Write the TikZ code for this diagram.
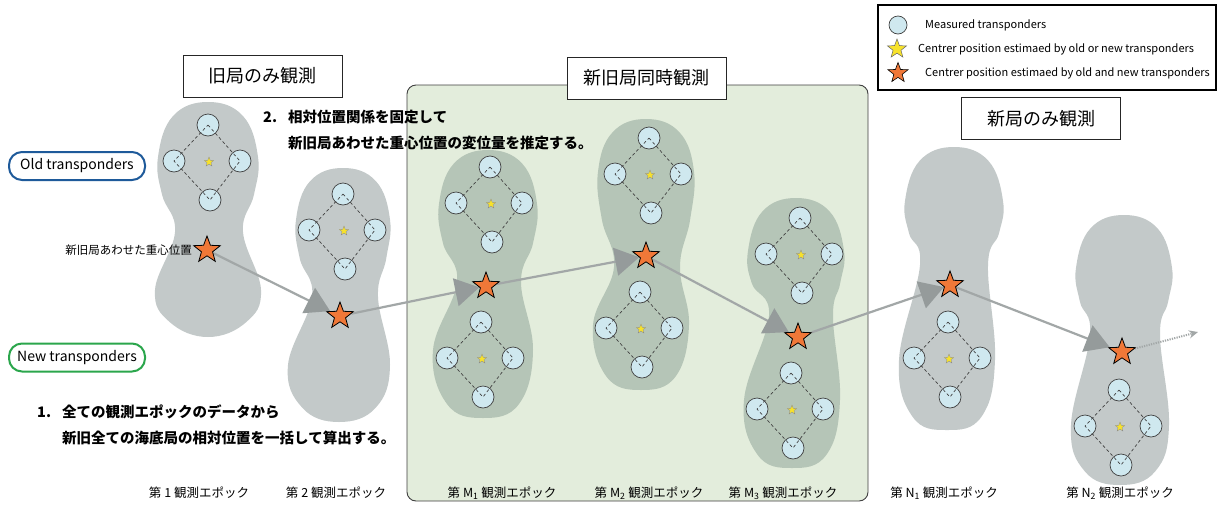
\documentclass[tikz,border=0pt]{standalone}
\usepackage{fontspec}
\setmainfont{Noto Sans CJK JP}
\usetikzlibrary{shapes.geometric,arrows.meta}
\definecolor{blobgray}{HTML}{C3C9C9}
\definecolor{blobgreen}{HTML}{B5C5B7}
\definecolor{boxgreen}{HTML}{E3EDDC}
\definecolor{tpblue}{HTML}{CFE8EF}
\definecolor{staror}{HTML}{F07838}
\definecolor{staryel}{HTML}{F7E22B}
\definecolor{arrgray}{HTML}{A2A7A7}
\definecolor{headgray}{HTML}{959B9B}
\definecolor{oldblue}{HTML}{1E5A9A}
\definecolor{newgreen}{HTML}{2BA64C}
\tikzset{
  tp/.style={circle, draw=black!75, fill=tpblue, line width=0.7pt, minimum size=22pt, inner sep=0pt},
  link/.style={draw=black!75, line width=0.7pt, dash pattern=on 3pt off 2.5pt},
  ystar/.style={star, star points=5, star point ratio=2.4, fill=staryel, draw=black!45, line width=0.3pt, minimum size=10pt, inner sep=0pt},
  ostar/.style={star, star points=5, star point ratio=2.4, fill=staror, draw=black, line width=0.8pt, minimum size=28pt, inner sep=0pt},
  move/.style={draw=arrgray, line width=2.2pt, -{Triangle[length=24pt,width=28pt,color=headgray]}},
  dotmove/.style={draw=arrgray, line width=2pt, dash pattern=on 1.2pt off 1.2pt, -{Stealth[length=9pt,width=8pt]}},
  titlebox/.style={draw=black!85, fill=white, line width=0.8pt, minimum width=159pt, minimum height=42pt, inner sep=0pt, font=\fontsize{18}{20}\selectfont},
  tagbox/.style={rounded corners=13pt, line width=2pt, fill=white, minimum width=136pt, minimum height=28pt, inner sep=0pt, font=\fontsize{14}{16}\selectfont},
  epoch/.style={font=\fontsize{12.5}{14}\selectfont, inner sep=0pt},
  step text/.style={font=\fontsize{14.5}{16}\selectfont\bfseries, inner sep=0pt, anchor=west},
  legtext/.style={font=\fontsize{11}{13}\selectfont, inner sep=0pt, anchor=west},
  blobg/.style={fill=blobgray},
  blobm/.style={fill=blobgreen}
}
% #1 style, #2 cxT, #3 T, #4 a, #5 N, #6 cxN, #7 n, #8 cxB, #9 b ; then \blobfinish{Bm}{B}
\newcommand\blobshape[9]{\def\bA{#1}\def\bB{#2}\def\bC{#3}\def\bD{#4}\def\bE{#5}\def\bF{#6}\def\bG{#7}\def\bH{#8}\def\bI{#9}\blobfinish}
\newcommand\blobfinish[2]{%
  \path[\bA] plot[smooth cycle, tension=0.7] coordinates {
    (\bB,\bC) (\bB+0.7*\bD,\bC+0.28*\bD) (\bB+\bD,\bC+1.1*\bD)
    (\bB+0.92*\bD,{(\bC+1.1*\bD+\bE)/2}) (\bF+\bG,\bE)
    (\bH+\bI,#1) (\bH+0.72*\bI,#2-0.28*\bI) (\bH,#2)
    (\bH-0.72*\bI,#2-0.28*\bI) (\bH-\bI,#1) (\bF-\bG,\bE)
    (\bB-0.92*\bD,{(\bC+1.1*\bD+\bE)/2}) (\bB-\bD,\bC+1.1*\bD) (\bB-0.7*\bD,\bC+0.28*\bD)};%
}
\newcommand\tpgroup[3]{%
  \node[tp] (#1t) at (#2-1,#3-37) {};
  \node[tp] (#1l) at (#2-35,#3-1) {};
  \node[tp] (#1r) at (#2+31,#3-1) {};
  \node[tp] (#1b) at (#2+1,#3+38) {};
  \draw[link] (#1t.center) -- (#1r.center) -- (#1b.center) -- (#1l.center) -- cycle;
  \node[ystar] (#1c) at (#2,#3) {};
}
\begin{document}
\begin{tikzpicture}[x=1pt,y=-1pt]
\useasboundingbox (0,0) rectangle (1221,504);
\fill[white] (0,0) rectangle (1221,504);

% green simultaneous-observation region
\draw[fill=boxgreen, draw=black!75, line width=0.9pt, rounded corners=9pt] (407,85) rectangle (868,501);

% blobs
\blobshape{blobg}{208}{102}{50}{232}{209}{34}{208}{53}{290}{337}
\blobshape{blobg}{343}{168}{47}{297}{345}{33}{339}{51}{365}{422}
\blobshape{blobm}{488}{150}{49}{282}{489}{32}{483}{50}{350}{418}
\blobshape{blobm}{646}{119}{48}{267}{647}{33}{641}{48}{325}{390}
\blobshape{blobm}{796}{198}{48}{316}{801}{32}{792}{48}{400}{468}
\blobshape{blobg}{954}{147}{49}{265}{954}{34}{947}{48}{360}{430}
\blobshape{blobg}{1124}{215}{48}{335}{1125}{35}{1120}{49}{425}{485}

% centre stars (placed first so arrows can refer to them)
\node[ostar, draw=none, fill=none] (s1) at (207,250) {};
\node[ostar, draw=none, fill=none] (s2) at (340,316) {};
\node[ostar, draw=none, fill=none] (sm1) at (486,286) {};
\node[ostar, draw=none, fill=none] (sm2) at (646,256) {};
\node[ostar, draw=none, fill=none] (sm3) at (798,337) {};
\node[ostar, draw=none, fill=none] (sn1) at (950,285) {};
\node[ostar, draw=none, fill=none] (sn2) at (1122,352) {};
\coordinate (dend) at (1198,332);

% displacement arrows
\draw[move] (s1) -- (s2);
\draw[move] (s2) -- (sm1);
\draw[move] (sm1) -- (sm2);
\draw[move] (sm2) -- (sm3);
\draw[move] (sm3) -- (sn1);
\draw[move] (sn1) -- (sn2);
\draw[dotmove] (sn2) -- (dend);

% transponder groups
\tpgroup{ga}{209}{162}
\tpgroup{gb}{344}{231}
\tpgroup{gma}{491}{204}
\tpgroup{gmb}{482}{359}
\tpgroup{gna}{650}{175}
\tpgroup{gnb}{641}{329}
\tpgroup{goa}{801}{255}
\tpgroup{gob}{792}{410}
\tpgroup{gp}{949}{359}
\tpgroup{gq}{1120}{427}

% orange stars drawn on top
\foreach \s in {s1,s2,sm1,sm2,sm3,sn1,sn2}
  \node[ostar] at (\s.center) {};

% title boxes
\node[titlebox] (tOld) at (262.5,76) {旧局のみ観測};
\node[titlebox] (tBoth) at (646.5,78) {新旧局同時観測};
\node[titlebox] (tNew) at (1041,118.5) {新局のみ観測};

% tags
\node[tagbox, draw=oldblue] (old) at (77,166) {Old transponders};
\node[tagbox, draw=newgreen] (new) at (77,357.5) {New transponders};
\node[font=\fontsize{11.5}{13}\selectfont, inner sep=0pt, anchor=east] (cg) at (192,250) {新旧局あわせた重心位置};

% step texts
\node[step text] (n1) at (37,412) {1.};
\node[step text] (n1a) at (62,412) {全ての観測エポックのデータから};
\node[step text] (n1b) at (62,438) {新旧全ての海底局の相対位置を一括して算出する。};
\node[step text] (n2) at (263,117) {2.};
\node[step text] (n2a) at (288,117) {相対位置関係を固定して};
\node[step text] (n2b) at (288,143) {新旧局あわせた重心位置の変位量を推定する。};

% epoch labels
\node[epoch] (e1) at (199,493) {第 1 観測エポック};
\node[epoch] (e2) at (336,493) {第 2 観測エポック};
\node[epoch] (e3) at (502,493) {第 M\textsubscript{1} 観測エポック};
\node[epoch] (e4) at (649,493) {第 M\textsubscript{2} 観測エポック};
\node[epoch] (e5) at (783,493) {第 M\textsubscript{3} 観測エポック};
\node[epoch] (e6) at (944,493) {第 N\textsubscript{1} 観測エポック};
\node[epoch] (e7) at (1120,493) {第 N\textsubscript{2} 観測エポック};

% legend
\node[draw=black, line width=1.1pt, minimum width=338pt, minimum height=85pt, inner sep=0pt] (leg) at (1047,47.5) {};
\node[tp, minimum size=18pt] (lc) at (898,25) {};
\node[ystar, minimum size=20pt, draw=black!60, line width=0.5pt] (ly) at (897,49) {};
\node[ostar, minimum size=21pt, line width=0.6pt] (lo) at (898,73) {};
\node[legtext] (lt1) at (925,25) {Measured transponders};
\node[legtext] (lt2) at (918,49) {Centrer position estimaed by old or new transponders};
\node[legtext] (lt3) at (925,73) {Centrer position estimaed by old and new transponders};
\end{tikzpicture}
\end{document}
